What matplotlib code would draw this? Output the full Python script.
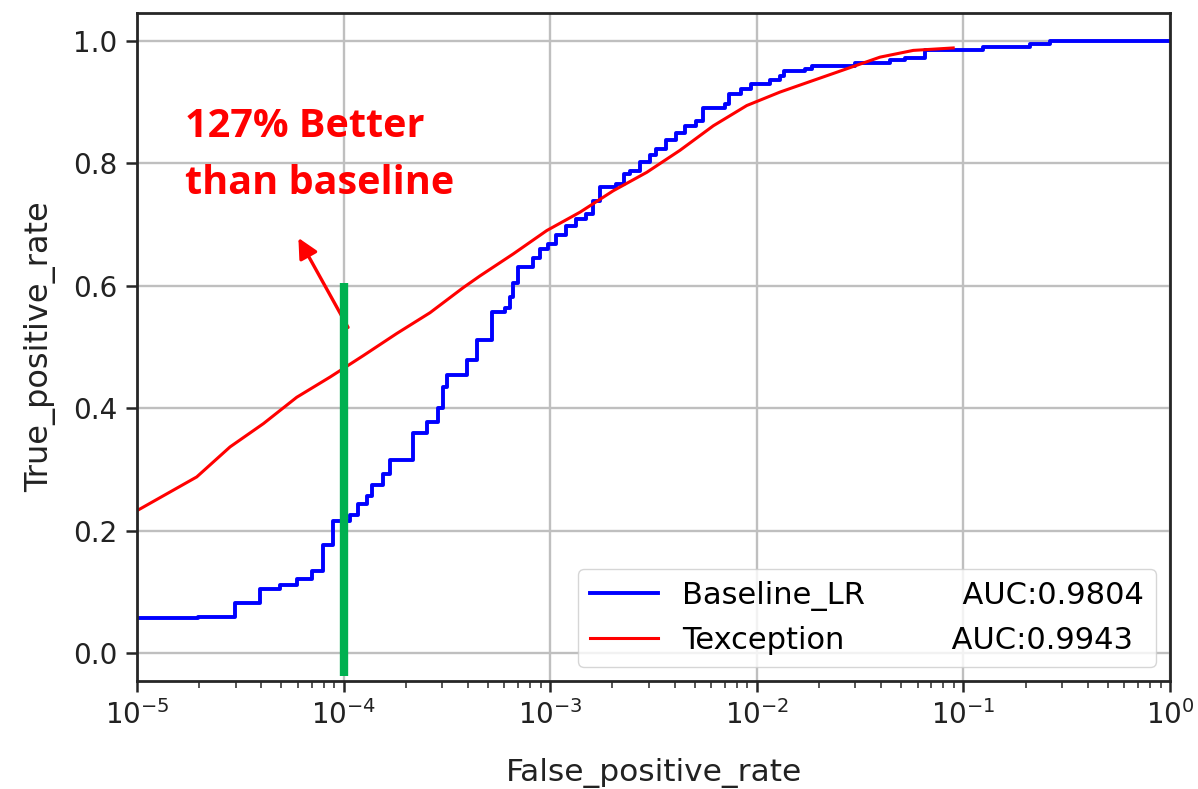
import matplotlib
matplotlib.use("Agg")
import matplotlib.pyplot as plt

plt.rcParams["font.family"] = ["DejaVu Sans"]

# ---- data ----
base_fpr = [1.0e-5, 1.97e-5, 2.98e-5, 3.94e-5, 4.92e-5, 5.93e-5, 7.01e-5, 7.92e-5, 8.86e-5,
            1.074e-4, 1.174e-4, 1.293e-4, 1.377e-4, 1.551e-4, 1.677e-4, 2.175e-4, 2.525e-4,
            2.873e-4, 3.038e-4, 3.155e-4, 3.943e-4, 4.408e-4, 5.21e-4, 6.04e-4, 6.39e-4,
            6.63e-4, 7.01e-4, 8.28e-4, 8.93e-4, 9.76e-4, 1.067e-3, 1.193e-3, 1.333e-3,
            1.49e-3, 1.611e-3, 1.742e-3, 2.082e-3, 2.277e-3, 2.434e-3, 2.72e-3, 3.042e-3,
            3.252e-3, 3.636e-3, 4.063e-3, 4.494e-3, 5.08e-3, 5.49e-3, 7.02e-3, 7.34e-3,
            8.38e-3, 9.37e-3, 1.158e-2, 1.295e-2, 1.354e-2, 1.711e-2, 1.85e-2, 2.988e-2,
            4.413e-2, 5.22e-2, 6.52e-2, 0.1244, 0.2101, 0.2626, 0.41, 1.0]
base_tpr = [0.057, 0.059, 0.0825, 0.105, 0.111, 0.122, 0.135, 0.177, 0.216,
            0.2255, 0.243, 0.2565, 0.2744, 0.292, 0.316, 0.36, 0.378,
            0.40, 0.435, 0.454, 0.478, 0.511, 0.557, 0.563, 0.581,
            0.604, 0.63, 0.645, 0.66, 0.6685, 0.682, 0.698, 0.709,
            0.717, 0.739, 0.761, 0.766, 0.783, 0.788, 0.8016, 0.8125,
            0.823, 0.837, 0.850, 0.861, 0.8696, 0.890, 0.8968, 0.913,
            0.921, 0.929, 0.935, 0.943, 0.950, 0.954, 0.959, 0.963,
            0.9685, 0.972, 0.985, 0.989, 0.9945, 0.999, 1.0, 1.0]

tex_fpr = [1.0e-5, 1.945e-5, 2.82e-5, 4.09e-5, 5.93e-5, 8.6e-5, 1.246e-4, 1.807e-4,
           2.62e-4, 3.797e-4, 4.57e-4, 6.63e-4, 9.62e-4, 1.394e-3, 2.02e-3, 2.932e-3,
           4.25e-3, 6.16e-3, 8.94e-3, 1.295e-2, 1.877e-2, 2.724e-2, 3.948e-2, 5.72e-2,
           8.93e-2]
tex_tpr = [0.233, 0.288, 0.337, 0.375, 0.418, 0.451, 0.486, 0.522,
           0.556, 0.597, 0.616, 0.652, 0.690, 0.720, 0.755, 0.785,
           0.821, 0.861, 0.894, 0.916, 0.935, 0.954, 0.973, 0.984,
           0.988]

series_names = ["Baseline_LR", "Texception"]
auc_values = [0.9804, 0.9943]

marker_fpr = 1e-4
marker_range = [-0.037, 0.604]
note_text = "127% Better\nthan baseline"
note_xy = (1.706e-5, 0.749)
arrow_tail = (1.05e-4, 0.532)
arrow_head = (6.04e-5, 0.678)

# ---- figure ----
fig = plt.figure(figsize=(11.98, 7.89), dpi=100)
ax = fig.add_axes([0.1144, 0.1369, 0.8622, 0.8466])

labels = ["{:<21s}AUC:{:.4f}".format(n, a) for n, a in zip(series_names, auc_values)]
ax.plot(base_fpr, base_tpr, drawstyle="steps-post", color="#0000FF", lw=2.8, label=labels[0])
ax.plot(tex_fpr, tex_tpr, color="#FF0000", lw=2.2, label=labels[1])

ax.annotate("", xy=arrow_head, xytext=arrow_tail,
            arrowprops=dict(arrowstyle="-|>", color="#FF0000", lw=2.4, mutation_scale=30,
                            shrinkA=0, shrinkB=0))
ax.vlines(marker_fpr, marker_range[0], marker_range[1], color="#00B050", lw=6, zorder=5)

ax.text(note_xy[0], note_xy[1], note_text, color="#FF0000", fontsize=28.5,
        fontweight="bold", family=["Open Sans", "DejaVu Sans"], va="baseline", ha="left",
        linespacing=1.62)

ax.set_xscale("log")
ax.set_xlim(1e-5, 1e0)
ax.set_ylim(-0.045, 1.045)
ax.set_yticks([0.0, 0.2, 0.4, 0.6, 0.8, 1.0])
ax.grid(True, which="major", color="#bfbfbf", lw=1.7)
ax.set_axisbelow(True)

for s in ax.spines.values():
    s.set_linewidth(2.0)
    s.set_color("#262626")
ax.tick_params(which="major", length=8, width=1.8, labelsize=20, color="#262626",
               labelcolor="#222222", pad=6)
ax.tick_params(which="minor", length=5, width=1.4, color="#555555")

ax.set_xlabel("False_positive_rate", fontsize=22.5, color="#222222", labelpad=20)
ax.set_ylabel("True_positive_rate", fontsize=23, color="#222222", labelpad=12)

ax.legend(loc="lower right", fontsize=22, framealpha=0.8, edgecolor="#cccccc",
          handlelength=2.2, borderaxespad=0.45)

fig.savefig("out.png", dpi=100)
